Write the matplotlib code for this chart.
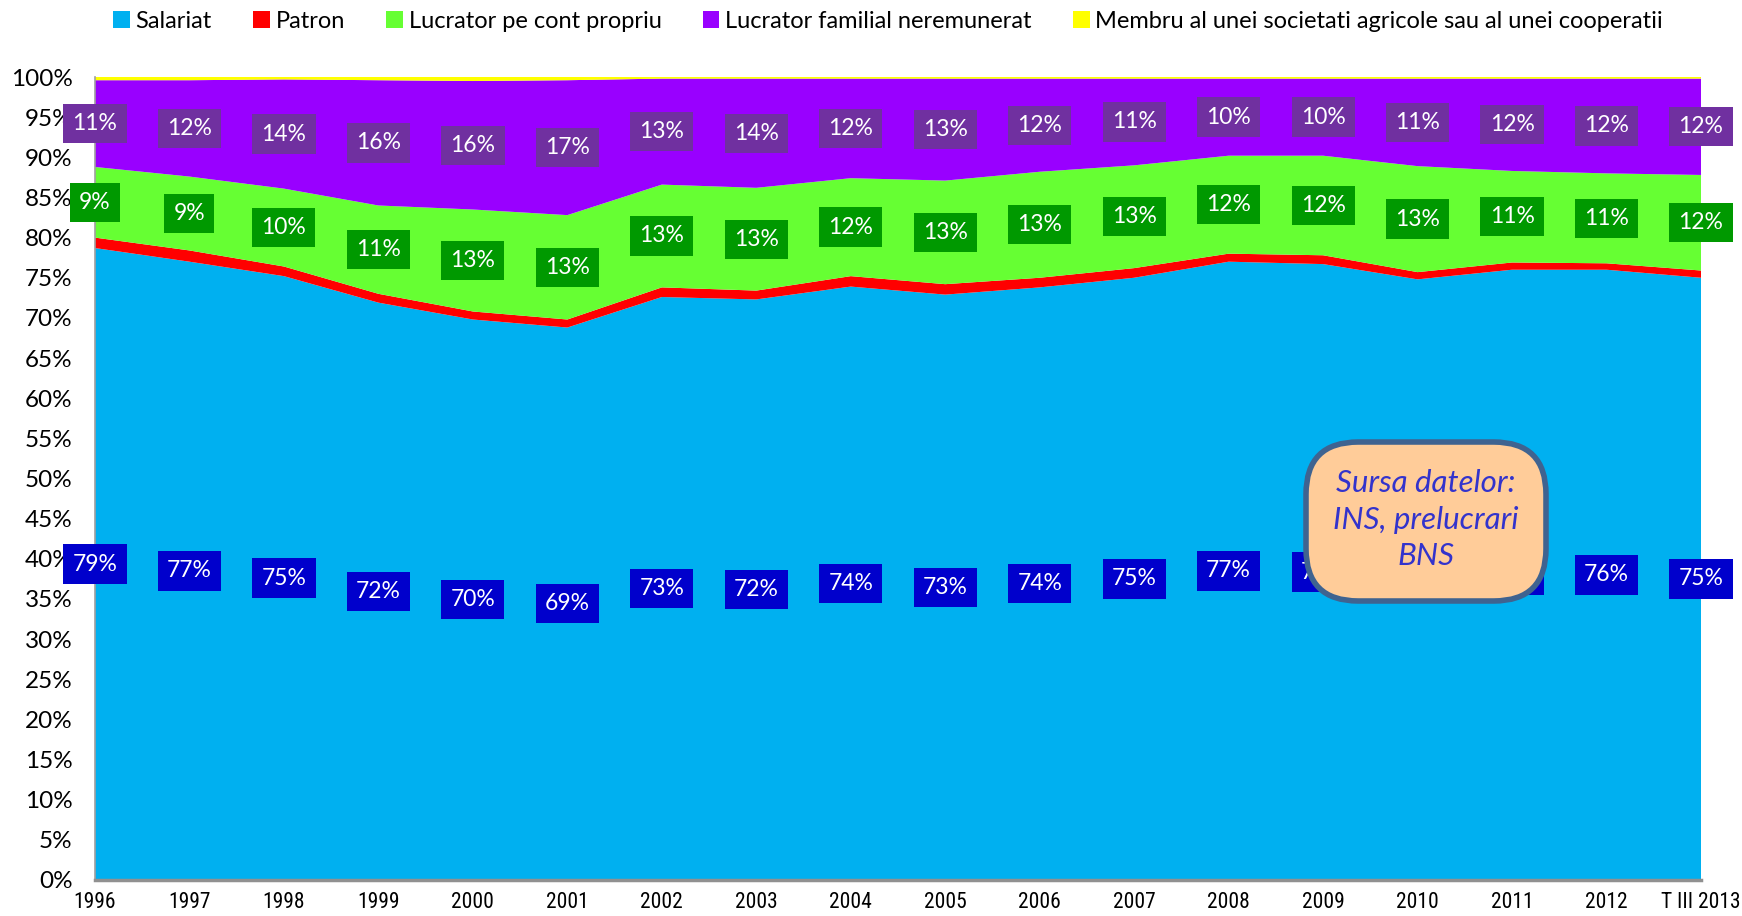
import matplotlib
matplotlib.use("Agg")
import matplotlib.pyplot as plt
from matplotlib import font_manager
import numpy as np
from matplotlib.patches import FancyBboxPatch

plt.rcParams['font.family'] = ['Lato', 'DejaVu Sans']

# pick a condensed (regular weight, upright) font for the x tick labels, if installed
preferred = ['Liberation Sans Narrow', 'Roboto Condensed', 'DejaVu Sans Condensed',
             'Open Sans Condensed']
narrow_family = None
cands = [f for f in font_manager.fontManager.ttflist
         if f.style == 'normal' and f.weight in (400, 'normal', 'regular', 'book')]
for p in preferred:
    for f in cands:
        if f.name == p:
            narrow_family = f.name
            break
    if narrow_family:
        break
if narrow_family is None:
    for f in cands:
        if ('Narrow' in f.name or 'Condensed' in f.name) and 'Mono' not in f.name:
            narrow_family = f.name
            break

categories = ["1996", "1997", "1998", "1999", "2000", "2001", "2002", "2003", "2004",
              "2005", "2006", "2007", "2008", "2009", "2010", "2011", "2012", "T III 2013"]
salariat = [78.7, 77.0, 75.2, 71.9, 69.8, 68.8, 72.6, 72.3, 73.9,
            72.9, 73.8, 75.0, 77.0, 76.7, 74.8, 76.0, 76.0, 75.0]
patron = [1.3, 1.4, 1.2, 1.1, 1.0, 1.0, 1.2, 1.1, 1.3,
          1.3, 1.2, 1.2, 1.0, 1.1, 0.9, 0.9, 0.8, 0.9]
cont_propriu = [8.8, 9.2, 9.7, 11.0, 12.7, 13.0, 12.8, 12.8, 12.2,
                12.9, 13.2, 12.8, 12.2, 12.4, 13.2, 11.4, 11.2, 11.9]
familial = [10.8, 12.0, 13.6, 15.6, 16.0, 16.8, 13.2, 13.6, 12.4,
            12.7, 11.6, 10.8, 9.6, 9.6, 10.9, 11.5, 11.8, 12.0]
membru = [0.4, 0.4, 0.3, 0.4, 0.5, 0.4, 0.2, 0.2, 0.2,
          0.2, 0.2, 0.2, 0.2, 0.2, 0.2, 0.2, 0.2, 0.2]

series_names = ["Salariat", "Patron", "Lucrator pe cont propriu",
                "Lucrator familial neremunerat",
                "Membru al unei societati agricole sau al unei cooperatii"]
colors = ["#00B0F0", "#FF0000", "#66FF33", "#9900FF", "#FFFF00"]
label_bg = {0: "#0000CC", 2: "#009900", 3: "#7030A0"}

fig = plt.figure(figsize=(17.42, 9.16), dpi=100)
ax = fig.add_axes([95 / 1742, 1 - 880 / 916, (1701 - 95) / 1742, (880 - 77) / 916])

x = np.arange(len(categories))
data = [salariat, patron, cont_propriu, familial, membru]
ax.stackplot(x, *data, colors=colors, labels=series_names, linewidth=0)

cum = np.zeros(len(x))
for i, vals in enumerate(data):
    vals = np.array(vals)
    if i in label_bg:
        mids = cum + vals / 2
        for xi, m, v in zip(x, mids, vals):
            ax.text(xi, m, f"{round(v):d}%", ha="center", va="center",
                    fontsize=16.5, color="white", clip_on=False, zorder=5,
                    bbox=dict(boxstyle="square,pad=0.4", fc=label_bg[i], ec="none"))
    cum += vals

ax.set_xlim(0, len(x) - 1)
ax.set_ylim(0, 100)
ax.set_yticks(np.arange(0, 101, 5))
ax.set_yticklabels([f"{v}%" for v in range(0, 101, 5)], fontsize=17.5)
ax.set_xticks(x)
if narrow_family is not None:
    ax.set_xticklabels(categories, fontsize=15.5, family=[narrow_family, 'DejaVu Sans'])
    ax.tick_params(axis="x", pad=9)
else:
    ax.set_xticklabels(categories, fontsize=12)
    ax.tick_params(axis="x", pad=12)
ax.tick_params(axis="both", length=0)
ax.tick_params(axis="y", pad=16)
for s in ["top", "right"]:
    ax.spines[s].set_visible(False)
ax.spines["left"].set_color("#A0A0A0")
ax.spines["left"].set_linewidth(1.2)
ax.spines["bottom"].set_color("#909090")
ax.spines["bottom"].set_linewidth(2.5)

leg = fig.legend(loc="center", bbox_to_anchor=(888 / 1742, 1 - 21 / 916), ncol=5,
                 frameon=False, fontsize=17, handlelength=0.7, handleheight=0.7,
                 handletextpad=0.25, columnspacing=1.75)

# source box
bx0, by0, bx1, by1 = 1306 / 1742, 1 - 601 / 916, 1546 / 1742, 1 - 442 / 916
box = FancyBboxPatch((bx0, by0), bx1 - bx0, by1 - by0,
                     boxstyle="round,pad=0,rounding_size=0.03",
                     transform=fig.transFigure, fc="#FFCC99", ec="#3F6390", lw=4,
                     zorder=10, mutation_aspect=1742 / 916)
fig.patches.append(box)
fig.text((bx0 + bx1) / 2, (by0 + by1) / 2 + 0.002, "Sursa datelor:\nINS, prelucrari\nBNS",
         ha="center", va="center", fontsize=22.5, style="italic", color="#3333CC",
         linespacing=1.38, zorder=11)

fig.savefig("out.png", dpi=100)
